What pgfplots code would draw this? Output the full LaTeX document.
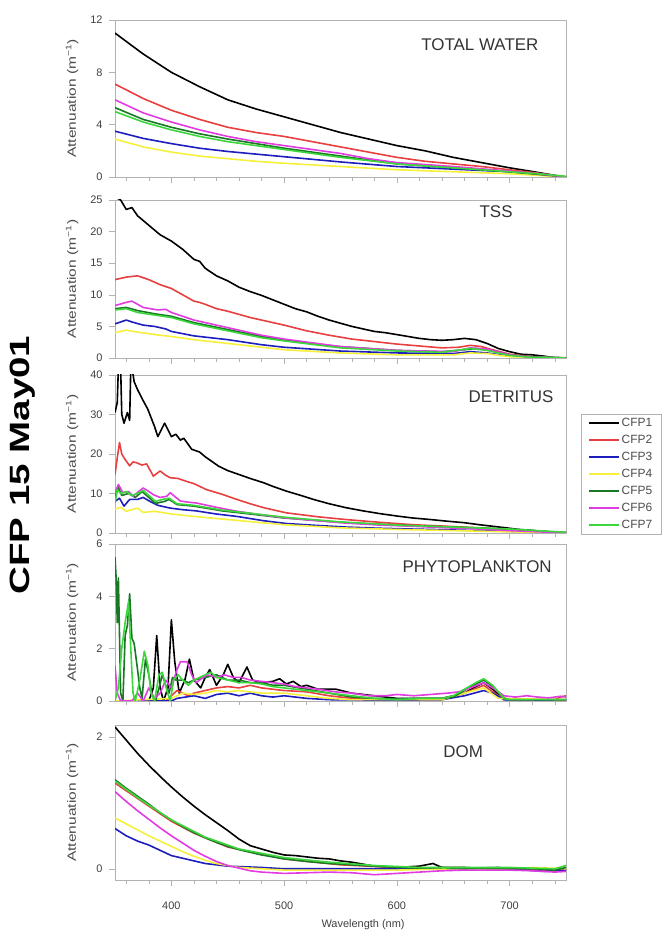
\documentclass[border=0pt]{standalone}
\usepackage{fontspec}
\setmainfont{Liberation Sans}
\usepackage{pgfplots}
\pgfplotsset{compat=1.18}

\definecolor{cA}{RGB}{0,0,0}
\definecolor{cB}{RGB}{232,64,64}
\definecolor{cC}{RGB}{30,30,190}
\definecolor{cD}{RGB}{245,240,60}
\definecolor{cE}{RGB}{25,120,35}
\definecolor{cF}{RGB}{225,60,225}
\definecolor{cG}{RGB}{60,215,60}

\newcommand{\fs}[1]{\fontsize{#1}{#1}\selectfont}

\tikzset{
  ptitle/.style={font=\fs{17}, text=black!80, anchor=center},
}

\pgfplotsset{
  panel/.style={
    scale only axis, width=451bp, height=157bp, anchor=south west,
    xmin=350, xmax=750,
    axis line style={gray!60},
    tick align=outside, xtick pos=left, ytick pos=left,
    xtick={400,500,600,700}, minor xtick={360,380,...,740},
    major tick length=6bp, minor tick length=4bp,
    tick style={gray!60, thin},
    xticklabels={},
    ticklabel style={font=\fs{11}, text=black!75},
    yticklabel style={xshift=-3bp},
    /pgf/number format/assume math mode=true,
    ylabel={Attenuation (m\textsuperscript{−1})},
    ylabel style={font=\fs{12}, text=black!70, anchor=center, xscale=1.3,
      at={(axis description cs:-0.095,0.5)}},
    every axis plot/.append style={line width=1.6bp, line join=round},
  },
}

\begin{document}
\begin{tikzpicture}
\useasboundingbox (0bp,0bp) rectangle (666bp,936bp);

\node[rotate=90, xscale=1.38, font=\bfseries\fs{28}] at (23bp,471bp) {CFP 15 May01};

% TOTAL WATER
\begin{axis}[panel, at={(115bp,759bp)}, height=157bp,
  ymin=0, ymax=12, ytick={0,4,8,12}]
\addplot[cA] coordinates {(350,11.0)(375,9.4)(400,8.0)(425,6.9)(450,5.9)(475,5.2)(500,4.6)(525,4.0)(550,3.4)(575,2.9)(600,2.4)(625,2.0)(650,1.5)(675,1.1)(700,0.7)(725,0.35)(745,0.05)(750,0)};
\addplot[cB] coordinates {(350,7.1)(375,6.0)(400,5.1)(425,4.4)(450,3.8)(475,3.4)(500,3.1)(525,2.7)(550,2.3)(575,1.9)(600,1.5)(625,1.2)(650,1.0)(675,0.8)(700,0.55)(725,0.3)(745,0.05)(750,0)};
\addplot[cC] coordinates {(350,3.5)(375,2.95)(400,2.55)(425,2.2)(450,1.95)(475,1.75)(500,1.55)(550,1.15)(600,0.8)(650,0.6)(700,0.4)(725,0.2)(750,0)};
\addplot[cD] coordinates {(350,2.9)(375,2.3)(400,1.9)(425,1.6)(450,1.4)(475,1.2)(500,1.05)(550,0.8)(600,0.55)(650,0.4)(700,0.25)(750,0)};
\addplot[cE] coordinates {(350,5.3)(375,4.4)(400,3.8)(425,3.3)(450,2.9)(475,2.55)(500,2.2)(550,1.6)(600,1.0)(650,0.7)(700,0.4)(725,0.2)(750,0)};
\addplot[cF] coordinates {(350,5.9)(375,4.9)(400,4.2)(425,3.6)(450,3.1)(475,2.7)(500,2.4)(525,2.1)(550,1.8)(575,1.4)(600,1.1)(650,0.8)(700,0.45)(725,0.25)(750,0)};
\addplot[cG] coordinates {(350,5.0)(375,4.2)(400,3.6)(425,3.1)(450,2.7)(475,2.4)(500,2.1)(550,1.5)(600,1.0)(650,0.7)(700,0.4)(725,0.25)(750,0.05)};
\node[ptitle] at (axis description cs:0.809,0.84) {TOTAL WATER};
\end{axis}

% TSS
\begin{axis}[panel, at={(115bp,578bp)}, height=158bp,
  ymin=0, ymax=25, ytick={0,5,10,15,20,25}]
\addplot[cA] coordinates {(350,25.5)(355,25)(360,23.5)(365,23.8)(370,22.5)(380,21)(390,19.5)(400,18.5)(410,17.2)(420,15.6)(425,15.3)(430,14.2)(440,13)(450,12.2)(460,11.2)(470,10.5)(480,9.9)(490,9.2)(500,8.5)(510,7.8)(520,7.3)(530,6.6)(540,6.0)(550,5.5)(560,5.0)(570,4.6)(580,4.2)(590,4.0)(600,3.7)(610,3.4)(620,3.1)(630,2.9)(640,2.8)(650,2.9)(660,3.1)(670,2.9)(680,2.3)(690,1.5)(700,1.0)(710,0.6)(720,0.5)(730,0.3)(740,0.05)(750,0)};
\addplot[cB] coordinates {(350,12.4)(360,12.8)(370,13.0)(380,12.4)(390,11.6)(400,11.0)(410,10.0)(420,9.0)(425,8.8)(430,8.5)(440,7.8)(450,7.4)(460,6.9)(470,6.4)(480,6.0)(500,5.2)(520,4.3)(540,3.6)(560,3.0)(580,2.6)(600,2.2)(620,1.9)(640,1.6)(655,1.7)(665,2.0)(675,1.8)(685,1.3)(700,0.6)(720,0.2)(750,0)};
\addplot[cC] coordinates {(350,5.4)(360,6.0)(365,5.7)(375,5.2)(385,5.0)(395,4.6)(400,4.2)(420,3.5)(450,2.9)(480,2.1)(500,1.7)(550,1.1)(600,0.8)(650,0.7)(665,1.0)(680,0.8)(700,0.3)(750,0)};
\addplot[cD] coordinates {(350,4.0)(360,4.4)(370,4.1)(390,3.6)(400,3.4)(420,2.9)(450,2.3)(480,1.7)(500,1.3)(550,0.8)(600,0.5)(650,0.5)(665,0.8)(680,0.7)(700,0.2)(750,0)};
\addplot[cE] coordinates {(350,7.8)(360,8.0)(370,7.5)(385,7.0)(400,6.6)(420,5.6)(450,4.5)(480,3.4)(500,2.8)(550,1.8)(600,1.2)(640,1.0)(660,1.3)(670,1.5)(680,1.3)(700,0.5)(720,0.15)(750,0)};
\addplot[cF] coordinates {(350,8.3)(360,8.8)(365,9.0)(375,8.0)(388,7.6)(395,7.7)(400,7.2)(420,6.0)(450,4.8)(480,3.6)(500,3.0)(550,1.8)(600,1.2)(650,1.0)(665,1.6)(680,1.4)(700,0.5)(720,0.1)(750,0)};
\addplot[cG] coordinates {(350,7.6)(360,7.8)(370,7.2)(385,6.8)(400,6.4)(420,5.4)(450,4.3)(480,3.2)(500,2.7)(550,1.6)(600,1.1)(640,0.9)(665,1.5)(680,1.2)(700,0.4)(720,0.1)(750,0.05)};
\node[ptitle] at (axis description cs:0.845,0.924) {TSS};
\end{axis}

% DETRITUS
\begin{axis}[panel, at={(115bp,403bp)}, height=158bp,
  ymin=0, ymax=40, ytick={0,10,20,30,40},
  legend style={at={(axis description cs:1.033,0.753)}, anchor=north west,
    draw=gray!60, font=\fs{12}, text=black!70,
    nodes={text height=8bp, text depth=2bp}, row sep=3bp,
    inner xsep=7bp, inner ysep=2bp},
  legend cell align=left,
  legend image code/.code={\draw[#1, line width=1.6bp] (0bp,0bp) -- (30bp,0bp);}]
\addplot[cA] coordinates {(350,30.5)(352,33)(353,42)(355,42)(356,30)(358,27.8)(361,30.5)(363,28.5)(364,42)(365,42)(367,38.3)(370,36.3)(375,33.5)(379,31.4)(385,27)(388,24.4)(394,27.8)(400,24.4)(404,25)(408,23.5)(411,24)(418,21.2)(425,20.5)(430,19.3)(442,16.9)(450,15.8)(458,15.0)(470,13.8)(482,12.7)(490,11.8)(502,10.6)(515,9.5)(526,8.5)(540,7.4)(555,6.4)(570,5.6)(585,4.9)(600,4.3)(614,3.8)(630,3.4)(644,3.0)(660,2.6)(673,2.1)(685,1.7)(697,1.3)(708,0.9)(718,0.7)(730,0.4)(740,0.2)(750,0.1)};
\addlegendentry{CFP1}
\addplot[cB] coordinates {(350,14.8)(352,19)(354,22.9)(356,20)(359,18.6)(363,17)(366,18)(369,17.8)(374,17.2)(378,17.5)(384,14.4)(390,15.7)(395,14.6)(399,14)(406,13.8)(413,13.1)(420,12.5)(431,11)(445,9.8)(458,8.5)(470,7.4)(482,6.4)(502,5.1)(530,4.1)(555,3.4)(585,2.7)(614,2.1)(645,1.7)(673,1.3)(700,0.8)(718,0.4)(735,0.2)(750,0)};
\addlegendentry{CFP2}
\addplot[cC] coordinates {(350,8)(354,8.8)(358,6.8)(363,8.5)(370,8.5)(375,9.0)(381,8.0)(388,7.0)(399,6.3)(410,5.9)(422,5.6)(440,4.8)(458,4.2)(482,3.1)(502,2.4)(530,1.9)(555,1.5)(585,1.2)(614,1.0)(645,0.8)(673,0.6)(700,0.4)(725,0.2)(750,0)};
\addlegendentry{CFP3}
\addplot[cD] coordinates {(350,6.0)(355,6.5)(360,5.5)(370,6.3)(375,5.2)(385,5.5)(400,4.8)(420,4.2)(450,3.4)(480,2.6)(500,2.1)(550,1.3)(600,0.9)(650,0.6)(700,0.3)(750,0)};
\addlegendentry{CFP4}
\addplot[cE] coordinates {(350,9)(353,11.5)(356,9.5)(362,10)(368,9)(374,10.5)(380,9)(386,7.5)(394,8)(398,8.5)(405,7.2)(420,6.8)(445,5.6)(470,4.8)(500,3.8)(550,2.7)(600,2.0)(650,1.5)(700,1.0)(730,0.4)(750,0.1)};
\addlegendentry{CFP5}
\addplot[cF] coordinates {(350,10.2)(353,12.3)(357,10.2)(362,10.5)(366,9.3)(371,10.5)(375,11.4)(380,10.5)(384,9.7)(390,9.0)(396,9.3)(399,10.2)(404,9.0)(408,8.1)(415,7.8)(422,7.6)(440,6.5)(458,5.5)(480,4.6)(502,3.8)(530,3.1)(555,2.5)(585,2.0)(614,1.7)(645,1.3)(673,1.0)(700,0.6)(725,0.3)(750,0.05)};
\addlegendentry{CFP6}
\addplot[cG] coordinates {(350,7.5)(352,11)(355,10)(360,10.5)(365,9.5)(370,10)(375,10.8)(380,9.5)(386,8.0)(392,8.5)(398,8.8)(405,7.4)(420,7.0)(445,5.8)(470,5.0)(500,4.0)(550,2.8)(600,2.0)(650,1.5)(700,1.0)(730,0.5)(750,0.2)};
\addlegendentry{CFP7}
\node[ptitle] at (axis description cs:0.878,0.861) {DETRITUS};
\end{axis}

% PHYTOPLANKTON
\begin{axis}[panel, at={(115bp,235bp)}, height=157bp,
  ymin=0, ymax=6, ytick={0,2,4,6}]
\addplot[cA] coordinates {(350,0.0)(370,0.0)(380,0.0)(384,0.5)(387,2.5)(390,0.5)(393,0.0)(397,0.5)(400,3.1)(403,1.5)(407,0.3)(412,0.8)(416,1.6)(420,0.8)(426,0.5)(430,0.9)(434,1.2)(440,0.6)(446,1.0)(450,1.4)(455,0.9)(460,0.7)(467,1.3)(472,0.8)(480,0.7)(490,0.75)(496,0.85)(502,0.65)(508,0.75)(515,0.55)(520,0.6)(530,0.45)(546,0.45)(560,0.3)(580,0.2)(600,0.1)(620,0.1)(640,0.1)(660,0.3)(670,0.55)(677,0.7)(685,0.45)(695,0.05)(720,0.05)(750,0.05)};
\addplot[cB] coordinates {(350,0)(395,0)(400,0.2)(405,0.4)(410,0.3)(415,0.2)(420,0.3)(430,0.4)(440,0.5)(450,0.55)(460,0.5)(470,0.6)(480,0.5)(490,0.45)(500,0.4)(520,0.35)(540,0.2)(560,0.1)(600,0.05)(640,0.05)(660,0.3)(677,0.6)(690,0.2)(700,0.05)(740,0.05)(745,0.15)(750,0.2)};
\addplot[cC] coordinates {(350,0)(400,0)(405,0.1)(420,0.2)(430,0.1)(440,0.25)(450,0.3)(460,0.2)(470,0.3)(480,0.2)(490,0.15)(500,0.2)(520,0.1)(540,0.05)(600,0.03)(640,0.05)(660,0.2)(677,0.4)(685,0.3)(695,0.05)(750,0.03)};
\addplot[cD] coordinates {(350,0)(400,0.1)(410,0.3)(420,0.25)(430,0.3)(440,0.4)(450,0.35)(460,0.4)(470,0.35)(480,0.3)(500,0.3)(520,0.2)(540,0.1)(560,0.05)(640,0.05)(660,0.3)(677,0.5)(690,0.1)(750,0.05)};
\addplot[cE] coordinates {(350,5.5)(351,4.7)(352,3.0)(353,4.7)(355,0.3)(357,0.0)(359,2.5)(361,2.9)(363,4.1)(365,2.4)(367,2.2)(370,1.2)(372,0.5)(374,0.1)(377,1.6)(380,1.0)(383,0.2)(386,0.0)(389,0.5)(392,1.0)(395,0.6)(398,0.3)(401,0.9)(404,0.8)(410,0.8)(415,0.7)(420,0.8)(430,0.9)(440,1.0)(450,0.8)(460,0.8)(470,0.7)(480,0.7)(490,0.6)(500,0.6)(520,0.45)(540,0.3)(560,0.15)(580,0.1)(600,0.08)(620,0.1)(640,0.1)(650,0.15)(660,0.4)(670,0.65)(677,0.8)(685,0.55)(695,0.1)(700,0.05)(720,0.05)(750,0.05)};
\addplot[cF] coordinates {(350,1.35)(352,0.3)(355,0.0)(365,0.0)(370,0.3)(375,0.0)(380,0.5)(385,0.1)(390,0.3)(395,0.8)(400,0.5)(405,1.2)(408,1.5)(414,1.5)(418,1.0)(422,0.7)(428,0.9)(432,1.0)(440,0.9)(447,1.0)(455,0.9)(462,0.9)(470,0.8)(480,0.75)(490,0.7)(500,0.65)(510,0.55)(520,0.5)(530,0.45)(545,0.35)(560,0.3)(575,0.2)(590,0.2)(600,0.25)(615,0.2)(630,0.25)(645,0.3)(655,0.35)(665,0.5)(677,0.7)(685,0.5)(695,0.2)(705,0.15)(715,0.2)(725,0.15)(735,0.12)(745,0.18)(750,0.15)};
\addplot[cG] coordinates {(350,0.0)(353,0.5)(356,2.0)(359,3.0)(362,3.8)(364,2.0)(366,0.3)(368,0.0)(372,0.8)(376,1.9)(379,1.4)(382,0.3)(385,0.0)(389,1.0)(392,1.1)(396,0.4)(399,0.0)(402,0.8)(406,1.0)(410,0.8)(415,0.6)(420,0.8)(425,0.9)(430,1.0)(435,1.1)(440,0.9)(450,0.8)(460,0.7)(470,0.7)(480,0.65)(490,0.55)(500,0.5)(520,0.4)(540,0.3)(560,0.2)(580,0.1)(600,0.05)(620,0.1)(640,0.1)(650,0.2)(660,0.45)(670,0.7)(677,0.85)(685,0.6)(695,0.1)(700,0.05)(720,0.05)(750,0.05)};
\node[ptitle] at (axis description cs:0.803,0.854) {PHYTOPLANKTON};
\end{axis}

% DOM
\begin{axis}[panel, at={(115bp,56bp)}, height=155bp,
  ymin=-0.17, ymax=2.18, ytick={0,2},
  xticklabels={400,500,600,700},
  xticklabel style={yshift=-12bp},
  xlabel={Wavelength (nm)},
  xlabel style={at={(axis description cs:0.55,-0.29)}, anchor=center, font=\fs{11}, text=black!75}]
\addplot[cA] coordinates {(350,2.15)(360,1.95)(370,1.75)(380,1.57)(390,1.4)(400,1.24)(410,1.09)(420,0.95)(430,0.82)(440,0.7)(450,0.58)(460,0.45)(470,0.35)(480,0.3)(490,0.25)(500,0.21)(510,0.2)(520,0.18)(530,0.16)(540,0.15)(550,0.12)(560,0.1)(570,0.07)(580,0.04)(590,0.03)(600,0.02)(610,0.03)(620,0.04)(632,0.08)(640,0.02)(660,0.02)(680,0.0)(700,0.0)(720,-0.02)(740,-0.03)(750,0.0)};
\addplot[cB] coordinates {(350,1.3)(380,0.95)(400,0.72)(420,0.54)(450,0.33)(500,0.15)(550,0.06)(600,0.02)(650,0.01)(700,0.01)(740,-0.03)(750,0.0)};
\addplot[cC] coordinates {(350,0.61)(360,0.5)(370,0.42)(380,0.36)(390,0.28)(400,0.2)(410,0.16)(420,0.12)(430,0.08)(450,0.04)(480,0.02)(500,0.0)(550,0.0)(600,0.0)(650,0.0)(690,0.02)(700,0.0)(730,-0.04)(750,-0.02)};
\addplot[cD] coordinates {(350,0.77)(360,0.68)(370,0.59)(380,0.5)(390,0.42)(400,0.34)(410,0.26)(420,0.19)(430,0.13)(440,0.08)(450,0.05)(460,0.02)(480,0.0)(500,-0.02)(540,-0.02)(600,-0.02)(650,0.0)(700,0.0)(720,0.02)(750,0.0)};
\addplot[cE] coordinates {(350,1.35)(360,1.22)(370,1.1)(380,0.98)(390,0.85)(400,0.74)(410,0.64)(420,0.55)(430,0.47)(440,0.4)(450,0.34)(460,0.29)(470,0.25)(480,0.21)(490,0.18)(500,0.15)(520,0.11)(540,0.08)(560,0.06)(580,0.04)(600,0.02)(620,0.01)(640,0.02)(660,0.0)(680,0.01)(700,0.0)(720,0.0)(740,-0.02)(750,0.02)};
\addplot[cF] coordinates {(350,1.17)(360,1.02)(370,0.88)(380,0.75)(390,0.62)(400,0.5)(410,0.39)(420,0.28)(430,0.19)(440,0.11)(450,0.05)(460,0.01)(470,-0.03)(480,-0.05)(490,-0.06)(500,-0.07)(520,-0.06)(540,-0.05)(560,-0.06)(580,-0.09)(600,-0.07)(620,-0.05)(640,-0.03)(660,-0.02)(680,-0.02)(700,-0.02)(720,-0.03)(740,-0.05)(750,-0.04)};
\addplot[cG] coordinates {(350,1.33)(370,1.08)(400,0.74)(430,0.48)(460,0.3)(500,0.17)(540,0.1)(580,0.05)(620,0.02)(660,0.02)(700,0.02)(740,0.0)(750,0.05)};
\node[ptitle] at (axis description cs:0.772,0.826) {DOM};
\end{axis}
\end{tikzpicture}
\end{document}
